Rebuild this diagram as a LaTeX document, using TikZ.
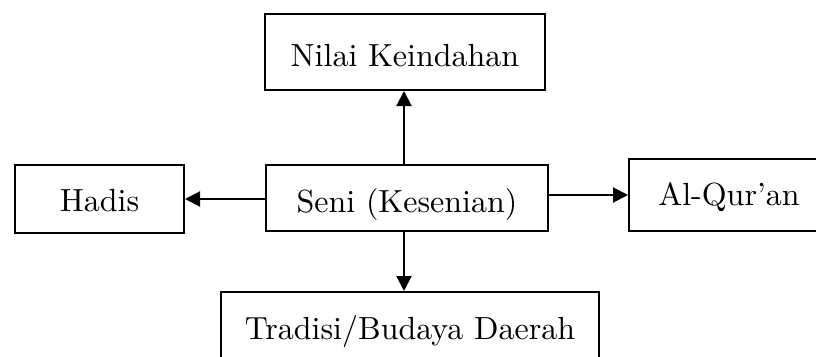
\documentclass[tikz,border=0pt]{standalone}
\usepackage{fontspec}
\setmainfont{lmroman10-regular.otf}
\usetikzlibrary{arrows.meta}
\begin{document}
\begin{tikzpicture}[x=1pt,y=-1pt,
  box/.style={draw=black, line width=2pt, rectangle, inner sep=0pt,
    font=\fontsize{32}{38}\selectfont, text height=24pt, text depth=0pt},
  arr/.style={line width=2pt, -{Triangle[length=15pt,width=15pt]}}]
\useasboundingbox (0,0) rectangle (816,356);
\node[box, minimum width=280pt, minimum height=76pt, text height=28pt] (nilai) at (405,52) {Nilai Keindahan};
\node[box, minimum width=169pt, minimum height=68pt] (hadis) at (99.5,199) {Hadis};
\node[box, minimum width=282pt, minimum height=66pt, text height=28pt] (seni) at (407,198) {Seni (Kesenian)};
\node[box, minimum width=200pt, minimum height=72pt, text height=20pt] (quran) at (729,195) {Al-Qur'an};
\node[box, minimum width=378pt, minimum height=70pt] (tradisi) at (410,327) {Tradisi/Budaya Daerah};
\coordinate (vx) at (404,0);
\draw[arr] (seni.north -| vx) -- (nilai.south -| vx);
\draw[arr] (seni.south -| vx) -- (tradisi.north -| vx);
\draw[arr] ([yshift=-1pt]seni.west) -- ([yshift=-1pt]seni.west -| hadis.east);
\draw[arr] ([yshift=3pt]seni.east) -- ([yshift=3pt]seni.east -| quran.west);
\end{tikzpicture}
\end{document}
